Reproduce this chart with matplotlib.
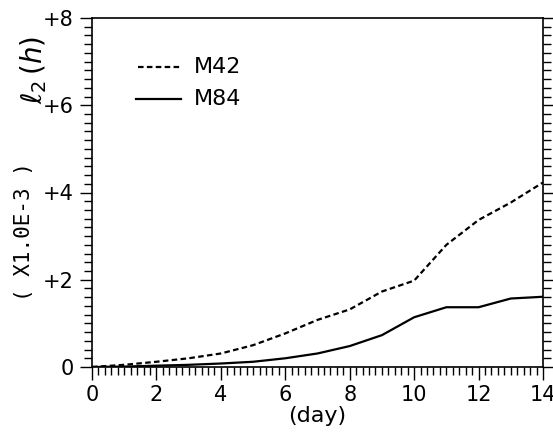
import matplotlib
matplotlib.use("Agg")
import matplotlib.pyplot as plt
from matplotlib.lines import Line2D
from matplotlib.ticker import MultipleLocator

# data (x1.0E-3)
days = [0, 1, 2, 3, 4, 5, 6, 7, 8, 9, 10, 11, 12, 13, 14]
m42 = [0.0, 0.05, 0.12, 0.20, 0.31, 0.50, 0.77, 1.08, 1.32, 1.73, 1.98, 2.80, 3.37, 3.77, 4.23]
m84 = [0.0, 0.01, 0.03, 0.05, 0.08, 0.12, 0.20, 0.31, 0.48, 0.73, 1.14, 1.37, 1.37, 1.57, 1.61]
yticks = [0, 2, 4, 6, 8]
ytick_labels = ["0", "+2", "+4", "+6", "+8"]
xticks = [0, 2, 4, 6, 8, 10, 12, 14]

plt.rcParams['font.family'] = ['DejaVu Sans']

fig = plt.figure(figsize=(5.53, 4.38), dpi=100)
ax = fig.add_axes([92/553, 1 - 367/438, (543-92)/553, (367-18)/438])

dash = (0, (2.5, 1.5))
ax.plot(days, m42, color="black", linestyle=dash, linewidth=1.6)
ax.plot(days, m84, color="black", linestyle="-", linewidth=1.6)

ax.set_xlim(0, 14)
ax.set_ylim(0, 8)
ax.set_xticks(xticks)
ax.set_yticks(yticks)
ax.set_yticklabels(ytick_labels)
ax.xaxis.set_minor_locator(MultipleLocator(0.2))
ax.yaxis.set_minor_locator(MultipleLocator(0.2))
ax.tick_params(which="both", direction="out", top=False, right=True, labelsize=15, width=1)
ax.tick_params(which="major", length=9, pad=4)
ax.tick_params(which="minor", length=6)
for s in ax.spines.values():
    s.set_linewidth(1.2)

ax.set_xlabel("(day)", fontsize=16, labelpad=1)

fig.text(34/553, 1 - 70/438, r"$\ell_2\,(h)$", rotation=90, fontsize=20,
         ha="center", va="center")
fig.text(24/553, 1 - 232/438, "( X1.0E-3 )", rotation=90, fontsize=15,
         family="DejaVu Sans Mono", ha="center", va="center")

# legend drawn by hand
fig.add_artist(Line2D([138/553, 180/553], [1 - 67/438, 1 - 67/438], transform=fig.transFigure,
                      color="black", linestyle=dash, linewidth=1.6))
fig.add_artist(Line2D([136/553, 181/553], [1 - 99/438, 1 - 99/438], transform=fig.transFigure,
                      color="black", linestyle="-", linewidth=1.6))
fig.text(194/553, 1 - 67/438, "M42", fontsize=16, va="center")
fig.text(194/553, 1 - 99/438, "M84", fontsize=16, va="center")

fig.savefig("out.png", dpi=100)
